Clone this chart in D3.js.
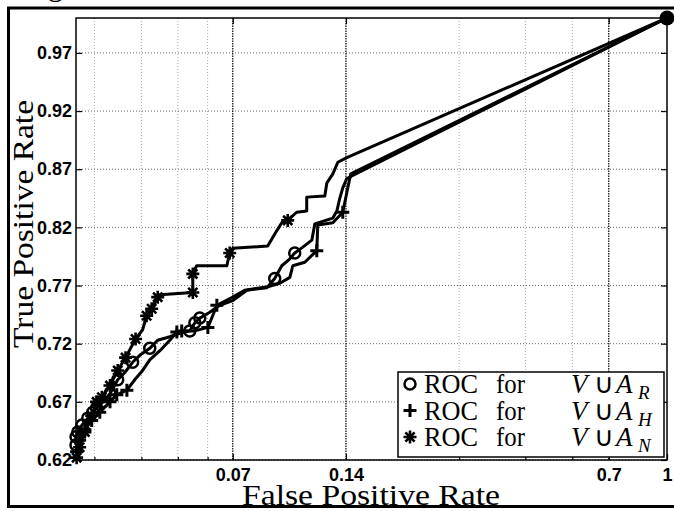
<!DOCTYPE html>
<html>
<head>
<meta charset="utf-8">
<script src="https://cdn.jsdelivr.net/npm/d3@7/dist/d3.min.js"></script>
<style>
body { margin: 0; background: #fff; }
svg { display: block; }
.tick text { font-family: "Liberation Sans", Arial, sans-serif; font-weight: bold; font-size: 18px; fill: #000; }
.lbl { font-family: "Liberation Serif", "Times New Roman", serif; fill: #000; }
</style>
</head>
<body>
<script>
var width = 674, height = 511
var left = 76, right = 667, top_ = 18, bottom = 460

var xTicks = [0.07, 0.14, 0.7, 1]
var xTickLabels = ['0.07', '0.14', '0.7', '1']
var xMinor = [0.03, 0.04, 0.05, 0.06, 0.28, 0.42, 0.56]
var yTicks = [0.62, 0.67, 0.72, 0.77, 0.82, 0.87, 0.92, 0.97]

// ROC for V u A_R (circle)
var rFpr = [0.0268, 0.0268, 0.0271, 0.0278, 0.0288, 0.0297, 0.0304, 0.0316, 0.0330, 0.0346, 0.0361, 0.0379, 0.0396, 0.0421, 0.0442, 0.0476, 0.0506, 0.0538, 0.0555, 0.0572, 0.0608, 0.0646, 0.0700, 0.0763, 0.0862, 0.0905, 0.0945, 0.0993, 0.1023, 0.1075, 0.1136, 0.1157, 0.1292, 0.1324, 0.1348, 0.1373, 0.1407, 1]
var rTpr = [0.633, 0.640, 0.644, 0.650, 0.656, 0.661, 0.665, 0.670, 0.677, 0.689, 0.695, 0.704, 0.710, 0.716, 0.723, 0.726, 0.729, 0.731, 0.738, 0.742, 0.747, 0.753, 0.757, 0.766, 0.768, 0.776, 0.787, 0.793, 0.798, 0.803, 0.809, 0.823, 0.828, 0.834, 0.845, 0.854, 0.862, 1]
var rMarks = [0, 1, 2, 3, 4, 5, 6, 7, 8, 9, 11, 13, 17, 18, 19, 25, 28, 37]

// ROC for V u A_H (plus)
var hFpr = [0.0269, 0.0274, 0.0283, 0.0295, 0.0310, 0.0330, 0.0344, 0.0366, 0.0384, 0.0403, 0.0421, 0.0448, 0.0476, 0.0497, 0.0512, 0.0555, 0.0601, 0.0619, 0.0635, 0.0700, 0.0753, 0.0867, 0.0934, 0.0993, 0.1011, 0.1088, 0.1171, 0.1178, 0.1292, 0.1373, 0.1416, 0.1442, 1]
var hTpr = [0.627, 0.637, 0.646, 0.654, 0.661, 0.670, 0.676, 0.680, 0.689, 0.697, 0.706, 0.714, 0.723, 0.730, 0.731, 0.731, 0.734, 0.744, 0.753, 0.760, 0.766, 0.769, 0.772, 0.777, 0.787, 0.790, 0.800, 0.822, 0.824, 0.833, 0.854, 0.866, 1]
var hMarks = [0, 1, 2, 3, 4, 5, 6, 7, 13, 14, 16, 18, 26, 29, 32]

// ROC for V u A_N (asterisk)
var nFpr = [0.0269, 0.0274, 0.0283, 0.0295, 0.0304, 0.0314, 0.0330, 0.0346, 0.0363, 0.0386, 0.0403, 0.0413, 0.0426, 0.0442, 0.0448, 0.0548, 0.0548, 0.0561, 0.0675, 0.0687, 0.0700, 0.0867, 0.0916, 0.0945, 0.0980, 0.1035, 0.1101, 0.1101, 0.1230, 0.1245, 0.1292, 0.1332, 0.1407, 1]
var nTpr = [0.622, 0.631, 0.644, 0.658, 0.670, 0.674, 0.684, 0.697, 0.708, 0.724, 0.732, 0.744, 0.750, 0.760, 0.762, 0.764, 0.780, 0.787, 0.787, 0.798, 0.802, 0.804, 0.817, 0.824, 0.826, 0.833, 0.834, 0.846, 0.847, 0.858, 0.866, 0.876, 0.880, 1]
var nMarks = [0, 1, 2, 3, 4, 5, 6, 7, 8, 9, 11, 12, 13, 15, 16, 19, 24, 33]

var series = [
    {fpr: rFpr, tpr: rTpr, marks: rMarks, sym: 'circle', sub: 'R'},
    {fpr: hFpr, tpr: hTpr, marks: hMarks, sym: 'plus', sub: 'H'},
    {fpr: nFpr, tpr: nTpr, marks: nMarks, sym: 'star', sub: 'N'}
]

var x = d3.scaleLog().domain([0.0268, 1]).range([left, right])
var y = d3.scaleLinear().domain([0.62, 1]).range([bottom, top_])

var svg = d3.select('body').append('svg').attr('width', width).attr('height', height)

// cut off caption remnant and outer frame
svg.append('text').attr('class', 'lbl').attr('x', 48).attr('y', -4).attr('font-size', 30).text('g')
svg.append('rect').attr('x', 8.5).attr('y', 8).attr('width', 720).attr('height', 498.5)
   .attr('fill', 'none').attr('stroke', '#000').attr('stroke-width', 3)

// grid
svg.selectAll('.ygrid').data(yTicks).enter().append('line')
   .attr('x1', left).attr('x2', right).attr('y1', d => y(d)).attr('y2', d => y(d))
   .attr('stroke', '#666').attr('stroke-width', 1).attr('stroke-dasharray', '1,2')
svg.selectAll('.xminor').data(xMinor).enter().append('line')
   .attr('x1', d => x(d)).attr('x2', d => x(d)).attr('y1', top_).attr('y2', bottom)
   .attr('stroke', '#aaa').attr('stroke-width', 1).attr('stroke-dasharray', '1,2')
svg.selectAll('.xmajor').data(xTicks.slice(0, 3)).enter().append('line')
   .attr('x1', d => x(d)).attr('x2', d => x(d)).attr('y1', top_).attr('y2', bottom)
   .attr('stroke', '#000').attr('stroke-width', 1.2).attr('stroke-dasharray', '1.5,1')

// axes with inside ticks
var xAxis = d3.axisBottom(x).tickValues(xTicks).tickFormat((d, i) => xTickLabels[i]).tickSize(-6).tickPadding(8)
var yAxis = d3.axisLeft(y).tickValues(yTicks).tickFormat(d3.format('.2f')).tickSize(-6).tickPadding(4)
svg.append('g').attr('transform', 'translate(0,' + bottom + ')').call(xAxis)
svg.append('g').attr('transform', 'translate(' + left + ',0)').call(yAxis)
svg.append('g').attr('transform', 'translate(' + right + ',0)')
   .call(d3.axisRight(y).tickValues(yTicks).tickSize(-6).tickFormat(''))
svg.append('g').attr('transform', 'translate(0,' + top_ + ')')
   .call(d3.axisTop(x).tickValues(xTicks).tickSize(-6).tickFormat(''))
svg.append('g').attr('transform', 'translate(0,' + bottom + ')')
   .call(d3.axisBottom(x).tickValues(xMinor).tickSize(-3).tickFormat(''))
svg.selectAll('.domain').remove()
svg.selectAll('.tick line').attr('stroke', '#000').attr('stroke-width', 1.2)

svg.append('rect').attr('x', left).attr('y', top_).attr('width', right - left).attr('height', bottom - top_)
   .attr('fill', 'none').attr('stroke', '#000').attr('stroke-width', 1.5)

// curves
var line = d3.line().x(d => x(d[0])).y(d => y(d[1]))

function drawMark(g, sym, px, py) {
    if (sym == 'circle') {
        g.append('circle').attr('cx', px).attr('cy', py).attr('r', 5.5)
         .attr('fill', 'none').attr('stroke', '#000').attr('stroke-width', 2.5)
        return
    }
    var d = sym == 'plus' ? 'M-6.5,0H6.5M0,-6.5V6.5'
                          : 'M-6.5,0H6.5M0,-6.5V6.5M-4.6,-4.6L4.6,4.6M-4.6,4.6L4.6,-4.6'
    g.append('path').attr('transform', 'translate(' + px + ',' + py + ')').attr('d', d)
     .attr('fill', 'none').attr('stroke', '#000').attr('stroke-width', sym == 'plus' ? 3 : 2.6)
}

series.forEach(s => {
    var pts = s.fpr.map((f, i) => [f, s.tpr[i]])
    svg.append('path').attr('d', line(pts)).attr('fill', 'none')
       .attr('stroke', '#000').attr('stroke-width', 3).attr('stroke-linejoin', 'round')
    var g = svg.append('g')
    s.marks.forEach(i => drawMark(g, s.sym, x(pts[i][0]), y(pts[i][1])))
})
svg.append('circle').attr('cx', x(1)).attr('cy', y(1)).attr('r', 7.5).attr('fill', '#000')

// axis labels
svg.append('text').attr('class', 'lbl').attr('x', 371).attr('y', 505).attr('font-size', 30)
   .attr('text-anchor', 'middle').attr('textLength', 258).attr('lengthAdjust', 'spacingAndGlyphs')
   .text('False Positive Rate')
svg.append('text').attr('class', 'lbl').attr('transform', 'translate(33,224) rotate(-90)')
   .attr('font-size', 30).attr('text-anchor', 'middle').attr('textLength', 248)
   .attr('lengthAdjust', 'spacingAndGlyphs').text('True Positive Rate')

// legend, one text per piece of the latex label
var leg = svg.append('g')
leg.append('rect').attr('x', 398).attr('y', 372).attr('width', 266).attr('height', 85)
   .attr('fill', '#fff').attr('stroke', '#000').attr('stroke-width', 1.5)
var legPieces = [
    {x: 424, t: 'ROC', italic: false, w: 54},
    {x: 496, t: 'for', italic: false, w: 29},
    {x: 571, t: 'V', italic: true, w: 0},
    {x: 594, t: '\u222A', italic: false, w: 0},
    {x: 616, t: 'A', italic: true, w: 0}
]
series.forEach((s, i) => {
    var by = 393 + i * 26.5
    drawMark(leg, s.sym, 410, by - 9)
    legPieces.forEach(p => {
        var t = leg.append('text').attr('class', 'lbl').attr('x', p.x).attr('y', by).attr('font-size', 27)
           .attr('font-style', p.italic ? 'italic' : 'normal').text(p.t)
        if (p.w) t.attr('textLength', p.w).attr('lengthAdjust', 'spacingAndGlyphs')
    })
    leg.append('text').attr('class', 'lbl').attr('x', 638).attr('y', by + 6).attr('font-size', 19)
       .attr('font-style', 'italic').text(s.sub)
})
</script>
</body>
</html>
